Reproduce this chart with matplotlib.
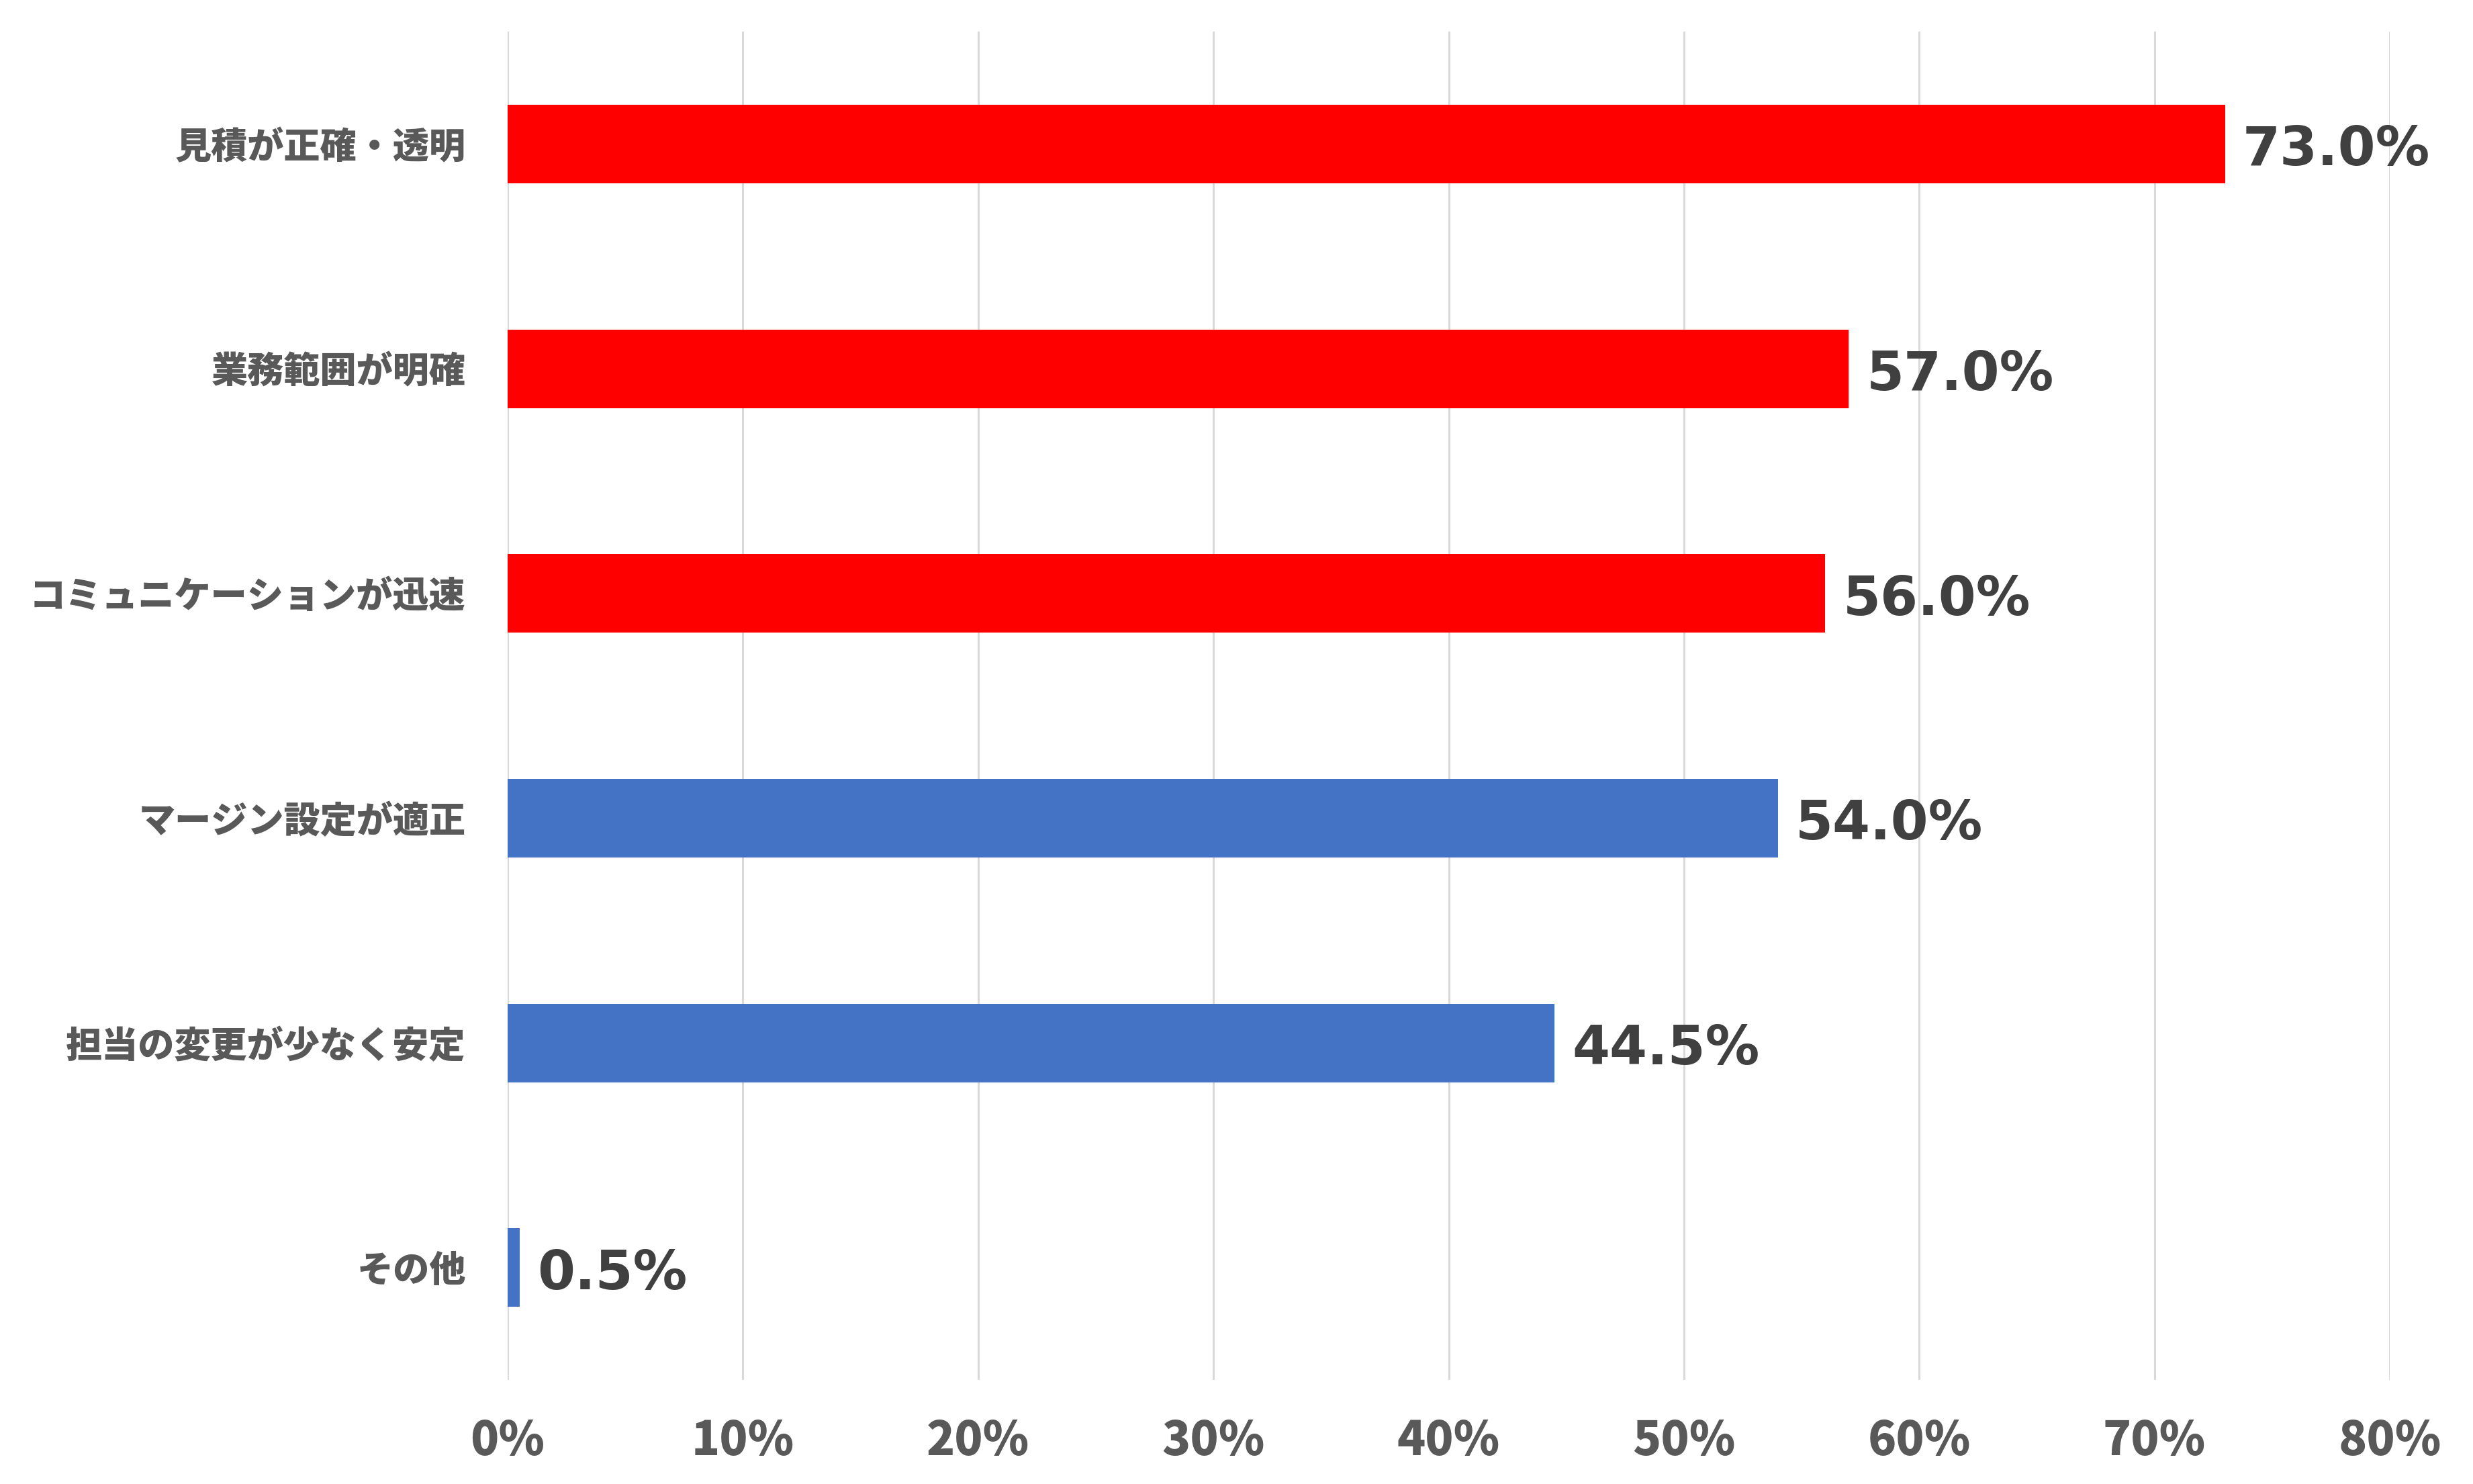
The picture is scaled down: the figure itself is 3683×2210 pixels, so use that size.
import matplotlib
matplotlib.use("Agg")
import matplotlib.pyplot as plt
from matplotlib.ticker import FuncFormatter

# Data
categories = ["見積が正確・透明", "業務範囲が明確", "コミュニケーションが迅速",
              "マージン設定が適正", "担当の変更が少なく安定", "その他"]
values = [73.0, 57.0, 56.0, 54.0, 44.5, 0.5]
highlight = [True, True, True, False, False, False]

RED = "#FF0000"
BLUE = "#4472C4"
JP_FONT = ["Noto Sans CJK JP", "DejaVu Sans"]

fig = plt.figure(figsize=(36.83, 22.10), dpi=100)
ax = fig.add_axes([0.2053, 0.0701, 0.7610, 0.9086])

ypos = list(range(len(categories)))
colors = [RED if h else BLUE for h in highlight]
bars = ax.barh(ypos, values, height=0.35, color=colors, zorder=3)

ax.set_ylim(len(categories) - 0.5, -0.5)
ax.set_xlim(0, 80)
ax.set_xticks(range(0, 81, 10))
ax.xaxis.set_major_formatter(FuncFormatter(lambda v, p: f"{v:.0f}%"))
ax.set_yticks(ypos)
ax.set_yticklabels(categories)

for lbl in ax.get_yticklabels():
    lbl.set_family(JP_FONT)
    lbl.set_fontsize(39)
    lbl.set_fontweight("heavy")
    lbl.set_color("#595959")
for lbl in ax.get_xticklabels():
    lbl.set_family(JP_FONT)
    lbl.set_fontsize(50)
    lbl.set_fontweight("heavy")
    lbl.set_color("#595959")

ax.tick_params(axis="y", length=0, pad=45)
ax.tick_params(axis="x", length=0, pad=40)

ax.grid(axis="x", color="#D9D9D9", linewidth=2.2, zorder=0)
ax.grid(axis="y", visible=False)
for s in ax.spines.values():
    s.set_visible(False)

# Value labels
for b, v in zip(bars, values):
    ax.text(b.get_width() + 0.75, b.get_y() + b.get_height() / 2 + 0.03, f"{v:.1f}%",
            va="center", ha="left", fontsize=58, fontweight="bold",
            color="#404040", family="DejaVu Sans")

fig.savefig("out.png", dpi=100, facecolor="white")
